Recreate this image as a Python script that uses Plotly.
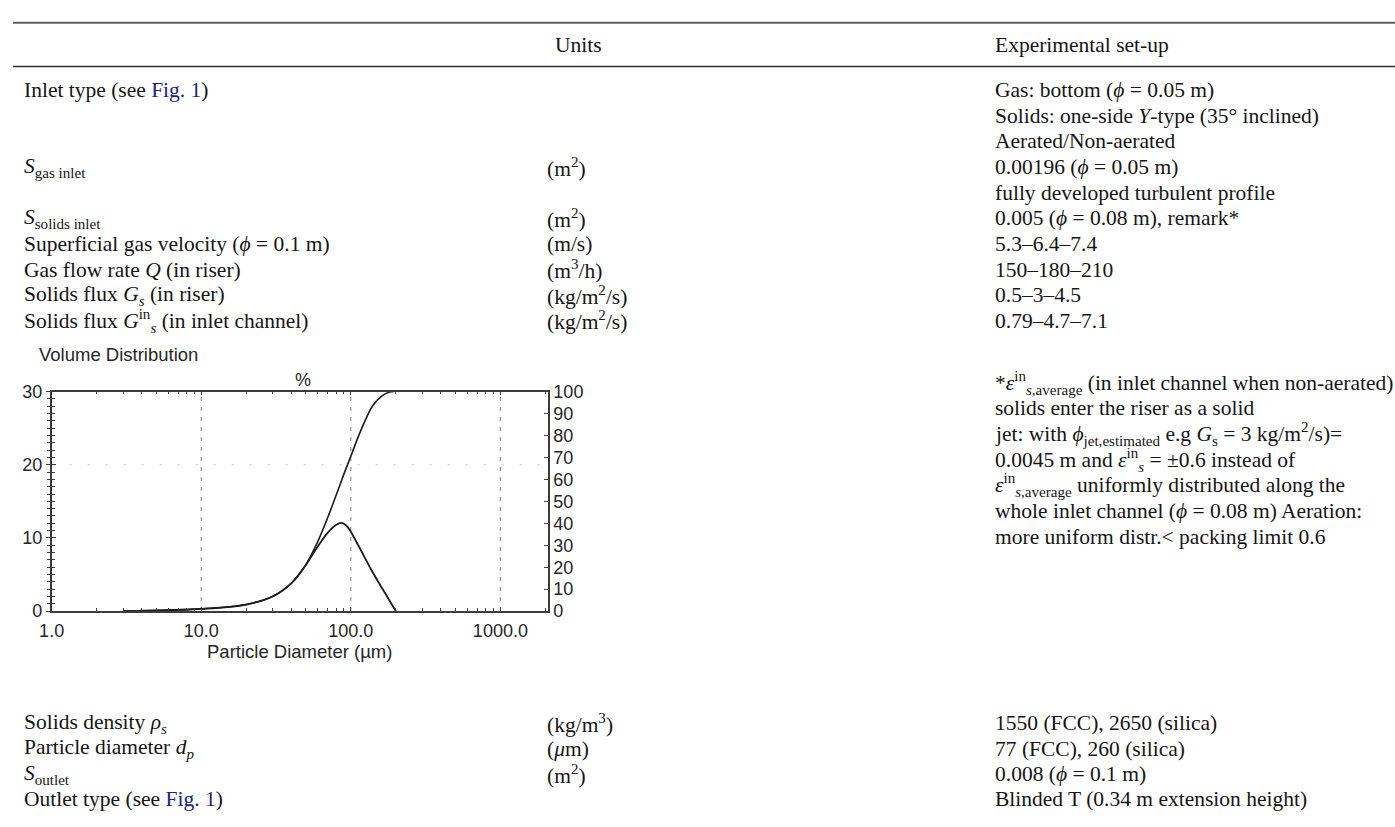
import plotly.graph_objects as go

W, H = 1395, 827

# ---------------- particle size distribution (FCC) ----------------
freq_diam_um = [3, 10, 20, 30, 40, 50, 60, 70, 80, 87, 95, 110, 140, 170, 200]
volume_pct = [0, 0.3, 0.9, 2.0, 3.8, 6.3, 8.8, 10.7, 11.8, 12.05, 11.5, 9.3, 5.3, 2.4, 0]

cum_diam_um = [3, 10, 20, 30, 40, 50, 60, 70, 80, 90, 100, 110, 125, 140, 160, 180, 195]
cumulative_pct = [0, 1.0, 3.0, 6.7, 12.7, 21.0, 31.5, 42.5, 53.0, 62.5, 70.5, 78.0,
                  87.0, 93.5, 97.8, 99.7, 100]

x_tick_vals = [1, 10, 100, 1000]
x_tick_text = ["1.0", "10.0", "100.0", "1000.0"]
left_tick_vals = [0, 10, 20, 30]
right_tick_vals = [0, 10, 20, 30, 40, 50, 60, 70, 80, 90, 100]
grid_diams = [10, 100, 1000]

# ---------------- table text ----------------
LINK = "<span style='color:#20208a'>Fig. 1</span>"
PHI = "<i>ϕ</i>"
EPS = "<i>ε</i>"

header_units = "Units"
header_setup = "Experimental set-up"

top_rows_label = [
    "Inlet type (see " + LINK + ")", "", "", "<i>S</i><sub>gas inlet</sub>", "",
    "<i>S</i><sub>solids inlet</sub>",
    "Superficial gas velocity (" + PHI + " = 0.1 m)",
    "Gas flow rate <i>Q</i> (in riser)",
    "Solids flux <i>G<sub>s</sub></i> (in riser)",
    "Solids flux <i>G</i><sup>in</sup><sub><i>s</i></sub> (in inlet channel)",
]
top_rows_units = ["", "", "", "(m<sup>2</sup>)", "", "(m<sup>2</sup>)", "(m/s)",
                  "(m<sup>3</sup>/h)", "(kg/m<sup>2</sup>/s)", "(kg/m<sup>2</sup>/s)"]
top_rows_setup = [
    "Gas: bottom (" + PHI + " = 0.05 m)",
    "Solids: one-side <i>Y</i>-type (35° inclined)",
    "Aerated/Non-aerated",
    "0.00196 (" + PHI + " = 0.05 m)",
    "fully developed turbulent profile",
    "0.005 (" + PHI + " = 0.08 m), remark*",
    "5.3–6.4–7.4",
    "150–180–210",
    "0.5–3–4.5",
    "0.79–4.7–7.1",
]
remark_lines = [
    "*" + EPS + "<sup>in</sup><sub><i>s</i>,average</sub> (in inlet channel when non-aerated)",
    "solids enter the riser as a solid",
    "jet: with " + PHI + "<sub>jet,estimated</sub> e.g <i>G</i><sub>s</sub> = 3 kg/m<sup>2</sup>/s)=",
    "0.0045 m and " + EPS + "<sup>in</sup><sub><i>s</i></sub> = ±0.6 instead of",
    EPS + "<sup>in</sup><sub><i>s</i>,average</sub> uniformly distributed along the",
    "whole inlet channel (" + PHI + " = 0.08 m) Aeration:",
    "more uniform distr.&lt; packing limit 0.6",
]
bottom_rows_label = ["Solids density <i>ρ<sub>s</sub></i>", "Particle diameter <i>d<sub>p</sub></i>",
                     "<i>S</i><sub>outlet</sub>", "Outlet type (see " + LINK + ")"]
bottom_rows_units = ["(kg/m<sup>3</sup>)", "(<i>μ</i>m)", "(m<sup>2</sup>)", ""]
bottom_rows_setup = ["1550 (FCC), 2650 (silica)", "77 (FCC), 260 (silica)",
                     "0.008 (" + PHI + " = 0.1 m)", "Blinded T (0.34 m extension height)"]

# ---------------- layout geometry (pixels) ----------------
COL_LABEL, COL_UNITS, COL_SETUP = 10, 538, 990
RULE_TOP, RULE_HEAD, HEAD_Y = 13, 58, 36
TOP_ROW0, ROW_STEP = 82, 26.3
REMARK_Y0 = 382
BOTTOM_ROW0, BOTTOM_STEP = 731, 26
PLOT_L, PLOT_R, PLOT_T, PLOT_B = 39, 540, 391, 616

SERIF = "Liberation Serif"
SANS = "Liberation Sans"
TXT = "#151515"
AX = "#3c3c3c"
FS = 21.5


def px(x):
    return x / W


def py(y):
    return 1 - y / H


annotations = []


def text(x, y, s, anchor="left", size=FS, family=SERIF, color=TXT):
    annotations.append(dict(x=px(x), y=py(y), xref="paper", yref="paper", text=s,
                            showarrow=False, xanchor=anchor, yanchor="middle",
                            borderpad=0, font=dict(family=family, size=size, color=color)))


text(571, HEAD_Y, header_units, anchor="center")
text(COL_SETUP, HEAD_Y, header_setup)

for i in range(len(top_rows_setup)):
    y = TOP_ROW0 + i * ROW_STEP
    if top_rows_label[i]:
        text(COL_LABEL, y, top_rows_label[i])
    if top_rows_units[i]:
        text(COL_UNITS, y, top_rows_units[i])
    text(COL_SETUP, y, top_rows_setup[i])

for i, line in enumerate(remark_lines):
    text(COL_SETUP, REMARK_Y0 + i * ROW_STEP, line)

for i in range(len(bottom_rows_setup)):
    y = BOTTOM_ROW0 + i * BOTTOM_STEP
    text(COL_LABEL, y, bottom_rows_label[i])
    if bottom_rows_units[i]:
        text(COL_UNITS, y, bottom_rows_units[i])
    text(COL_SETUP, y, bottom_rows_setup[i])

# chart captions
CH = "#262626"
text(25, 353, "Volume Distribution", size=18.5, family=SANS, color=CH)
text(293, 379, "%", anchor="center", size=18, family=SANS, color=CH)
text((PLOT_L + PLOT_R) / 2, 657, "Particle Diameter (µm)", anchor="center",
     size=18.5, family=SANS, color=CH)

shapes = [
    dict(type="line", xref="paper", yref="paper", x0=0, x1=1, y0=py(RULE_TOP), y1=py(RULE_TOP),
         line=dict(color="#606060", width=2)),
    dict(type="line", xref="paper", yref="paper", x0=0, x1=1, y0=py(RULE_HEAD), y1=py(RULE_HEAD),
         line=dict(color="#303030", width=1.5)),
]

fig = go.Figure()

# dashed vertical grid lines at the decades, dotted horizontal line at 20
for d in grid_diams:
    fig.add_trace(go.Scatter(x=[d, d], y=[0, 30], mode="lines", yaxis="y",
                             line=dict(color="#8c8c8c", width=1.1, dash="4px,6px"),
                             hoverinfo="skip", showlegend=False))
fig.add_trace(go.Scatter(x=[1, 2100], y=[20, 20], mode="lines", yaxis="y",
                         line=dict(color="#c2c2c2", width=1.2, dash="2px,16px"),
                         hoverinfo="skip", showlegend=False))

fig.add_trace(go.Scatter(x=freq_diam_um, y=volume_pct, mode="lines", yaxis="y",
                         line=dict(color="#1c1c1c", width=1.8, shape="spline", smoothing=1.0),
                         name="Volume %", showlegend=False))
fig.add_trace(go.Scatter(x=cum_diam_um, y=cumulative_pct, mode="lines", yaxis="y2",
                         line=dict(color="#1c1c1c", width=1.6, shape="spline", smoothing=0.8),
                         name="Cumulative %", showlegend=False))
fig.add_trace(go.Scatter(x=[], y=[], yaxis="y3", showlegend=False))

minor_x = [k * 10 ** e for e in range(0, 4) for k in range(2, 10)]
dom_x = [px(PLOT_L), px(PLOT_R)]
dom_y = [py(PLOT_B), py(PLOT_T)]
tickfont = dict(family=SANS, size=18, color=CH)

fig.update_layout(
    width=W, height=H, margin=dict(l=0, r=0, t=0, b=0),
    paper_bgcolor="white", plot_bgcolor="white",
    showlegend=False, annotations=annotations, shapes=shapes,
    xaxis=dict(type="log", range=[0, 3.318], domain=dom_x, anchor="y",
               showline=True, linecolor=AX, linewidth=1.6, mirror="ticks",
               tickmode="array", tickvals=x_tick_vals, ticktext=x_tick_text,
               ticks="inside", ticklen=4, tickcolor=AX, tickfont=tickfont,
               ticklabelstandoff=2,
               minor=dict(tickmode="array", tickvals=minor_x, ticks="inside",
                          ticklen=3, tickcolor=AX, showgrid=False),
               showgrid=False, zeroline=False),
    yaxis=dict(range=[0, 30], domain=dom_y, anchor="x", side="left",
               showline=True, linecolor=AX, linewidth=1.6,
               tickmode="array", tickvals=left_tick_vals, ticks="outside", ticklen=4,
               tickcolor=AX, tickfont=tickfont, ticklabelstandoff=0,
               minor=dict(dtick=1, ticks="outside", ticklen=3, tickcolor=AX, showgrid=False),
               showgrid=False, zeroline=False),
    yaxis3=dict(range=[0, 30], overlaying="y", anchor="x", side="left",
                showline=False, showticklabels=False,
                tickmode="array", tickvals=left_tick_vals, ticks="inside", ticklen=4,
                tickcolor=AX,
                minor=dict(dtick=1, ticks="inside", ticklen=3, tickcolor=AX, showgrid=False),
                showgrid=False, zeroline=False),
    yaxis2=dict(range=[0, 100], overlaying="y", anchor="x", side="right",
                showline=True, linecolor=AX, linewidth=1.6,
                tickmode="array", tickvals=right_tick_vals, ticks="inside", ticklen=4,
                tickcolor=AX, tickfont=tickfont, ticklabelstandoff=0,
                showgrid=False, zeroline=False),
)

# full-bleed page: drop the default body margin
fig.write_html("out.html",
               post_script="document.body.style.margin='0';document.body.style.overflow='hidden';")
